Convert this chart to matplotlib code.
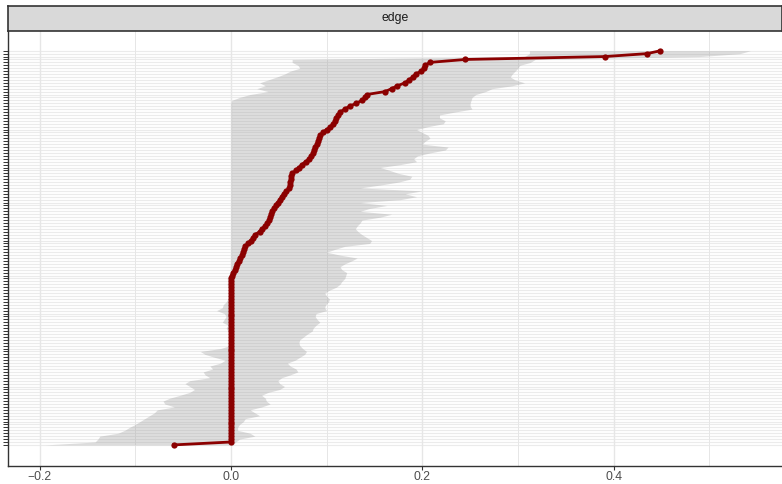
import matplotlib
matplotlib.use("Agg")
import matplotlib.pyplot as plt
import numpy as np

plt.rcParams["font.family"] = ["Liberation Sans", "DejaVu Sans"]

# ---- data (bottom category first) ----
estimate = [
    -0.060,
    0.0, 0.0, 0.0, 0.0, 0.0, 0.0, 0.0, 0.0, 0.0, 0.0,
    0.0, 0.0, 0.0, 0.0, 0.0, 0.0, 0.0, 0.0, 0.0, 0.0,
    0.0, 0.0, 0.0, 0.0, 0.0, 0.0, 0.0, 0.0, 0.0, 0.0,
    0.0, 0.0, 0.0, 0.0, 0.0, 0.0, 0.0, 0.0, 0.0, 0.0,
    0.0, 0.0, 0.0, 0.0, 0.0, 0.0, 0.0, 0.0, 0.0, 0.0,
    0.0, 0.0, 0.0, 0.0, 0.0, 0.0, 0.0,
    0.001, 0.002, 0.004, 0.005, 0.006, 0.008, 0.010, 0.012, 0.013, 0.014,
    0.015, 0.018, 0.021, 0.023, 0.025, 0.030, 0.032, 0.036, 0.038, 0.040,
    0.041, 0.042, 0.043, 0.045, 0.047, 0.049, 0.051, 0.053, 0.055, 0.058,
    0.061, 0.062, 0.062, 0.063, 0.063, 0.064, 0.068, 0.071, 0.074, 0.078,
    0.082, 0.084, 0.086, 0.087, 0.088, 0.090, 0.091, 0.092, 0.093, 0.096,
    0.100, 0.104, 0.107, 0.109, 0.110, 0.112, 0.114, 0.119, 0.124, 0.131,
    0.137, 0.140, 0.142, 0.161, 0.168, 0.174, 0.182, 0.186, 0.190, 0.193,
    0.199, 0.202, 0.203, 0.208, 0.245, 0.391, 0.435, 0.449,
]

lower = [
    -0.194, -0.142, -0.139, -0.137, -0.118, -0.111, -0.106, -0.100, -0.095, -0.090,
    -0.085, -0.080, -0.077, -0.059, -0.069, -0.071, -0.064, -0.053, -0.043, -0.038,
    -0.043, -0.048, -0.043, -0.022, -0.027, -0.029, -0.019, -0.022, -0.011, -0.006,
    -0.017, -0.027, -0.032, -0.011, -0.001, 0.0, 0.0, 0.0, -0.001, -0.003,
    -0.005, -0.003, -0.009, -0.007, -0.005, -0.007, -0.015, -0.009, -0.008, -0.005,
    -0.003, -0.002, -0.002, -0.001, -0.003, -0.004, -0.003, -0.004, -0.002,
    0.0, 0.0, 0.0, 0.0, 0.0, 0.0, 0.0, 0.0, 0.0, 0.0,
    0.0, 0.0, 0.0, 0.0, 0.0, 0.0, 0.0, 0.0, 0.0, 0.0,
    0.0, 0.0, 0.0, 0.0, 0.0, 0.0, 0.0, 0.0, 0.0, 0.0,
    0.0, 0.0, 0.0, 0.0, 0.0, 0.0, 0.0, 0.0, 0.0, 0.0,
    0.0, 0.0, 0.0, 0.0, 0.0, 0.0, 0.0, 0.0, 0.0, 0.0,
    0.0, 0.0, 0.0, 0.0, 0.0, 0.0, 0.0, 0.0, 0.0,
    0.001, 0.009, 0.020, 0.039, 0.027, 0.036, 0.030, 0.039, 0.048, 0.056,
    0.062, 0.072, 0.070, 0.064, 0.064, 0.307, 0.312, 0.312,
]

upper = [
    0.002, 0.005, 0.009, 0.025, 0.020, 0.007, 0.007, 0.009, 0.013, 0.015,
    0.030, 0.025, 0.020, 0.032, 0.041, 0.037, 0.036, 0.032, 0.039, 0.051,
    0.056, 0.051, 0.049, 0.053, 0.062, 0.070, 0.068, 0.062, 0.059, 0.067,
    0.072, 0.077, 0.079, 0.075, 0.072, 0.071, 0.072, 0.076, 0.080, 0.085,
    0.086, 0.089, 0.093, 0.090, 0.088, 0.089, 0.100, 0.098, 0.099, 0.102,
    0.103, 0.100, 0.098, 0.103, 0.110, 0.114, 0.116, 0.119, 0.120, 0.121,
    0.116, 0.114, 0.119, 0.126, 0.132, 0.114, 0.100, 0.109, 0.119, 0.145,
    0.147, 0.142, 0.137, 0.133, 0.130, 0.132, 0.135, 0.137, 0.156, 0.168,
    0.135, 0.145, 0.163, 0.135, 0.177, 0.194, 0.182, 0.200, 0.135, 0.156,
    0.175, 0.187, 0.189, 0.175, 0.166, 0.156, 0.177, 0.194, 0.191, 0.195,
    0.208, 0.224, 0.227, 0.200, 0.203, 0.208, 0.206, 0.200, 0.194, 0.206,
    0.222, 0.224, 0.218, 0.218, 0.234, 0.252, 0.250, 0.250, 0.251, 0.252,
    0.256, 0.266, 0.273, 0.294, 0.307, 0.297, 0.292, 0.294, 0.297, 0.300,
    0.302, 0.313, 0.318, 0.490, 0.532, 0.543,
]

x_ticks = [-0.2, 0.0, 0.2, 0.4]
x_ticklabels = ["\u22120.2", "0.0", "0.2", "0.4"]
x_minor = [-0.1, 0.1, 0.3, 0.5]
facet_label = "edge"

n = len(estimate)
rank = np.arange(n)

W, H = 782, 484
fig = plt.figure(figsize=(W / 100, H / 100), dpi=100)
fig.patch.set_facecolor("white")

ax_left = 8 / W
ax_bottom = (H - 465.5) / H
ax_top = (H - 31) / H
ax = fig.add_axes([ax_left, ax_bottom, 1.0 - ax_left, ax_top - ax_bottom])
ax.set_facecolor("white")

# grid
for yv in rank:
    ax.axhline(yv, color="#ebebeb", lw=0.85, zorder=0)
for xv in x_ticks:
    ax.axvline(xv, color="#e6e6e6", lw=1.0, zorder=0)
for xv in x_minor:
    ax.axvline(xv, color="#e6e6e6", lw=0.7, zorder=0)

ax.fill_betweenx(rank, lower, upper, color="#999999", alpha=0.33, lw=0, zorder=1)
ax.plot(estimate, rank, color="#8b0000", lw=2.0, zorder=3,
        marker="o", markersize=4.5, markeredgewidth=0)

span = n - 1
ax.set_ylim(-0.05 * span - 0.3, span + 0.05 * span)
ax.set_xlim(-0.233, 0.576)

ax.set_xticks(x_ticks)
ax.set_xticklabels(x_ticklabels)
ax.set_yticks(rank)
ax.set_yticklabels([])
ax.tick_params(axis="x", length=2.75, width=0.8, color="#333333",
               labelcolor="#4d4d4d", labelsize=8.8, pad=1.2)
ax.tick_params(axis="y", length=3.5, width=0.7, color="#333333")

for side in ["top", "right"]:
    ax.spines[side].set_visible(False)
for side in ["left", "bottom"]:
    ax.spines[side].set_color("#333333")
    ax.spines[side].set_linewidth(1.0)

# facet strip
strip_bottom = (H - 31) / H
strip_top = (H - 6) / H
sax = fig.add_axes([ax_left, strip_bottom, 1.0 - ax_left, strip_top - strip_bottom])
sax.set_facecolor("#d9d9d9")
sax.set_xticks([])
sax.set_yticks([])
for s in sax.spines.values():
    s.set_color("#333333")
    s.set_linewidth(1.2)
sax.text(0.5, 0.5, facet_label, ha="center", va="center", fontsize=8.8,
         color="#1a1a1a", transform=sax.transAxes)

fig.savefig("out.png", dpi=100)
